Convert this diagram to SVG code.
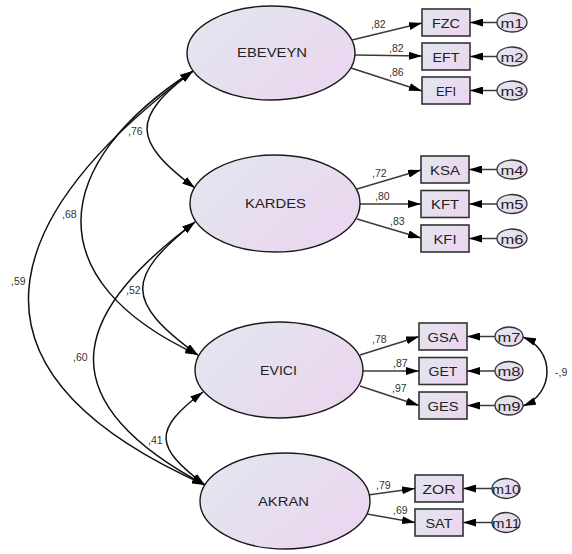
<svg xmlns="http://www.w3.org/2000/svg" width="572" height="554" viewBox="0 0 572 554">
<defs>
<linearGradient id="g" x1="0" y1="0.2" x2="1" y2="0.8">
<stop offset="0" stop-color="#e2e6ef"/>
<stop offset="1" stop-color="#ecd5f0"/>
</linearGradient>
<marker id="ah" viewBox="0 0 13 8" refX="13" refY="4" markerWidth="13" markerHeight="8" markerUnits="userSpaceOnUse" orient="auto-start-reverse">
<path d="M0,0 L13,4 L0,8 z" fill="#000"/>
</marker>
</defs>
<style>
.lat{fill:url(#g);stroke:#1a1a1a;stroke-width:1.4}
.obs{fill:url(#g);stroke:#333;stroke-width:1.6}
.err{fill:url(#g);stroke:#333;stroke-width:1.3}
.nl{font-family:"Liberation Sans",Arial,sans-serif;font-size:12.5px;fill:#222;text-anchor:middle}
.bl{font-family:"Liberation Sans",Arial,sans-serif;font-size:13px;fill:#222;text-anchor:middle}
.ml{font-family:"Liberation Sans",Arial,sans-serif;font-size:13.5px;fill:#222;text-anchor:middle}
.cl{font-family:"Liberation Sans",Arial,sans-serif;font-size:10.5px;fill:#333}
.ld{stroke:#3a3a3a;stroke-width:1.5;fill:none;marker-end:url(#ah)}
.cv{stroke:#111;stroke-width:1.5;fill:none;marker-start:url(#ah);marker-end:url(#ah)}
</style>

<g id="connectors">
<!-- loadings -->
<line class="ld" x1="352" y1="40" x2="422" y2="23"/>
<line class="ld" x1="355" y1="55" x2="422" y2="56"/>
<line class="ld" x1="351" y1="68" x2="422" y2="91"/>
<line class="ld" x1="357" y1="189" x2="421" y2="170"/>
<line class="ld" x1="360" y1="204" x2="421" y2="204"/>
<line class="ld" x1="357" y1="219" x2="421" y2="238"/>
<line class="ld" x1="360" y1="355" x2="419" y2="336.5"/>
<line class="ld" x1="363" y1="371" x2="419" y2="371"/>
<line class="ld" x1="360" y1="386" x2="419" y2="405.5"/>
<line class="ld" x1="368" y1="495" x2="415" y2="488.5"/>
<line class="ld" x1="367" y1="514" x2="415" y2="522.5"/>
<!-- errors -->
<line class="ld" x1="497" y1="22.5" x2="470" y2="22.5"/>
<line class="ld" x1="497" y1="56.5" x2="470" y2="56.5"/>
<line class="ld" x1="497" y1="90.5" x2="470" y2="90.5"/>
<line class="ld" x1="497" y1="169.5" x2="469" y2="169.5"/>
<line class="ld" x1="497" y1="204" x2="469" y2="204"/>
<line class="ld" x1="497" y1="238.5" x2="469" y2="238.5"/>
<line class="ld" x1="495" y1="336.5" x2="467" y2="336.5"/>
<line class="ld" x1="495" y1="371" x2="467" y2="371"/>
<line class="ld" x1="495" y1="405.5" x2="467" y2="405.5"/>
<line class="ld" x1="492" y1="488.5" x2="463" y2="488.5"/>
<line class="ld" x1="492" y1="522.5" x2="463" y2="522.5"/>
<!-- covariances -->
<path class="cv" d="M193,71 C130.4,118 132.4,141 195,188"/>
<path class="cv" d="M193,71 C48.4,163.9 37.2,280.8 198,355"/>
<path class="cv" d="M193,71 C21,200 -74,361 205,485"/>
<path class="cv" d="M195,222 C125.2,277.4 124.4,301.4 198,355"/>
<path class="cv" d="M195,222 C84.8,304.7 32.7,393 205,485"/>
<path class="cv" d="M203,392 C152.4,430 154.4,447 205,485"/>
<path class="cv" d="M523,337 C555,350 555,393 523,406"/>
<!-- coefficient labels -->
<text class="cl" x="371" y="28">,82</text>
<text class="cl" x="389" y="52">,82</text>
<text class="cl" x="389" y="76">,86</text>
<text class="cl" x="372" y="177">,72</text>
<text class="cl" x="375" y="200">,80</text>
<text class="cl" x="390" y="225">,83</text>
<text class="cl" x="372" y="343">,78</text>
<text class="cl" x="393" y="367">,87</text>
<text class="cl" x="392" y="392">,97</text>
<text class="cl" x="376" y="489">,79</text>
<text class="cl" x="393" y="514">,69</text>
<text class="cl" x="555" y="376">-,9</text>
<text class="cl" x="128" y="135">,76</text>
<text class="cl" x="62" y="218">,68</text>
<text class="cl" x="11" y="285">,59</text>
<text class="cl" x="126" y="294">,52</text>
<text class="cl" x="73" y="361">,60</text>
<text class="cl" x="148" y="444">,41</text>
</g>

<g id="EBEVEYN"><ellipse class="lat" cx="271" cy="53" rx="84" ry="47"/><text class="nl" x="272" y="57" textLength="70" lengthAdjust="spacingAndGlyphs">EBEVEYN</text></g>
<g id="KARDES"><ellipse class="lat" cx="275" cy="203.5" rx="85" ry="48.5"/><text class="nl" x="275.5" y="208" textLength="61" lengthAdjust="spacingAndGlyphs">KARDES</text></g>
<g id="EVICI"><ellipse class="lat" cx="279" cy="370" rx="84" ry="48"/><text class="nl" x="278.5" y="375" textLength="37" lengthAdjust="spacingAndGlyphs">EVICI</text></g>
<g id="AKRAN"><ellipse class="lat" cx="285" cy="501" rx="85" ry="48"/><text class="nl" x="283.5" y="506" textLength="51" lengthAdjust="spacingAndGlyphs">AKRAN</text></g>

<g id="FZC"><rect class="obs" x="422" y="9" width="48" height="27"/><text class="bl" x="446" y="27.5" textLength="28" lengthAdjust="spacingAndGlyphs">FZC</text></g>
<g id="EFT"><rect class="obs" x="422" y="43" width="48" height="27"/><text class="bl" x="446" y="61.5" textLength="27" lengthAdjust="spacingAndGlyphs">EFT</text></g>
<g id="EFI"><rect class="obs" x="422" y="77" width="48" height="27"/><text class="bl" x="446" y="95.5" textLength="20" lengthAdjust="spacingAndGlyphs">EFI</text></g>
<g id="KSA"><rect class="obs" x="421" y="156" width="48" height="27"/><text class="bl" x="445" y="174.5" textLength="30" lengthAdjust="spacingAndGlyphs">KSA</text></g>
<g id="KFT"><rect class="obs" x="421" y="190.5" width="48" height="27"/><text class="bl" x="445" y="209" textLength="28" lengthAdjust="spacingAndGlyphs">KFT</text></g>
<g id="KFI"><rect class="obs" x="421" y="225" width="48" height="27"/><text class="bl" x="445" y="243.5" textLength="23" lengthAdjust="spacingAndGlyphs">KFI</text></g>
<g id="GSA"><rect class="obs" x="419" y="323" width="48" height="27"/><text class="bl" x="443" y="341.5" textLength="31" lengthAdjust="spacingAndGlyphs">GSA</text></g>
<g id="GET"><rect class="obs" x="419" y="357.5" width="48" height="27"/><text class="bl" x="443" y="376" textLength="29" lengthAdjust="spacingAndGlyphs">GET</text></g>
<g id="GES"><rect class="obs" x="419" y="392" width="48" height="27"/><text class="bl" x="443" y="410.5" textLength="31" lengthAdjust="spacingAndGlyphs">GES</text></g>
<g id="ZOR"><rect class="obs" x="415" y="475" width="48" height="27"/><text class="bl" x="439" y="493.5" textLength="33" lengthAdjust="spacingAndGlyphs">ZOR</text></g>
<g id="SAT"><rect class="obs" x="415" y="509" width="48" height="27"/><text class="bl" x="439" y="527.5" textLength="27" lengthAdjust="spacingAndGlyphs">SAT</text></g>

<g id="m1"><ellipse class="err" cx="512" cy="22.5" rx="15" ry="9.5"/><text class="ml" x="512" y="27.5" textLength="23" lengthAdjust="spacingAndGlyphs">m1</text></g>
<g id="m2"><ellipse class="err" cx="512" cy="56.5" rx="15" ry="9.5"/><text class="ml" x="512" y="61.5" textLength="23" lengthAdjust="spacingAndGlyphs">m2</text></g>
<g id="m3"><ellipse class="err" cx="512" cy="90.5" rx="15" ry="9.5"/><text class="ml" x="512" y="95.5" textLength="23" lengthAdjust="spacingAndGlyphs">m3</text></g>
<g id="m4"><ellipse class="err" cx="512" cy="169.5" rx="15" ry="9.5"/><text class="ml" x="512" y="174.5" textLength="23" lengthAdjust="spacingAndGlyphs">m4</text></g>
<g id="m5"><ellipse class="err" cx="512" cy="204" rx="15" ry="9.5"/><text class="ml" x="512" y="209" textLength="23" lengthAdjust="spacingAndGlyphs">m5</text></g>
<g id="m6"><ellipse class="err" cx="512" cy="238.5" rx="15" ry="9.5"/><text class="ml" x="512" y="243.5" textLength="23" lengthAdjust="spacingAndGlyphs">m6</text></g>
<g id="m7"><ellipse class="err" cx="509" cy="336.5" rx="14" ry="9.5"/><text class="ml" x="509" y="341.5" textLength="23" lengthAdjust="spacingAndGlyphs">m7</text></g>
<g id="m8"><ellipse class="err" cx="509" cy="371" rx="14" ry="9.5"/><text class="ml" x="509" y="376" textLength="23" lengthAdjust="spacingAndGlyphs">m8</text></g>
<g id="m9"><ellipse class="err" cx="509" cy="405.5" rx="14" ry="9.5"/><text class="ml" x="509" y="410.5" textLength="23" lengthAdjust="spacingAndGlyphs">m9</text></g>
<g id="m10"><ellipse class="err" cx="506" cy="488.5" rx="14" ry="10"/><text class="ml" x="506" y="493.5" textLength="28" lengthAdjust="spacingAndGlyphs">m10</text></g>
<g id="m11"><ellipse class="err" cx="506" cy="522.5" rx="14" ry="10"/><text class="ml" x="506" y="527.5" textLength="28" lengthAdjust="spacingAndGlyphs">m11</text></g>
</svg>
